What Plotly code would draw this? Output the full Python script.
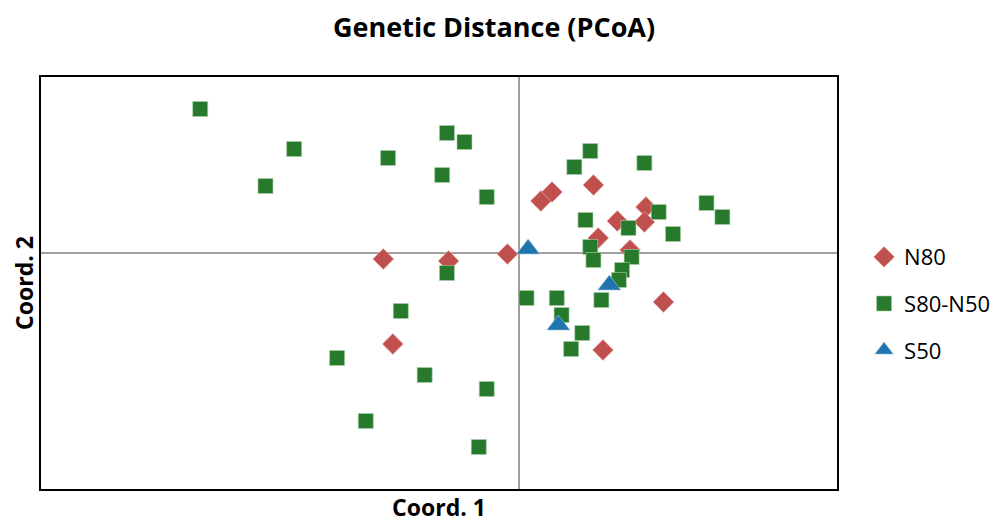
import plotly.graph_objects as go

# N80 (red diamonds)
n80_x = [-0.85, -0.44, -0.07, 0.14, 0.21, 0.47, 0.80, 0.79, 0.62, 0.50, 0.70, 0.91, 0.53, -0.79]
n80_y = [-0.06, -0.08, -0.01, 0.52, 0.61, 0.68, 0.46, 0.31, 0.32, 0.15, 0.03, -0.49, -0.97, -0.91]

# S80-N50 (green squares)
s80_x = [-2.00, -1.41, -1.59, -0.45, -0.34, -0.82, -0.48, -0.20, -0.45, 0.35,
         0.45, 0.79, 1.18, 1.28, 0.42, 0.88, 0.69, 0.97, 0.45, 0.47,
         0.71, 0.65, 0.63, 0.05, 0.24, 0.52, 0.27, 0.40, 0.33, -0.74,
         -1.14, -0.59, -0.20, -0.96, -0.25]
s80_y = [1.44, 1.04, 0.67, 1.20, 1.11, 0.95, 0.78, 0.56, -0.20, 0.86,
         1.02, 0.90, 0.50, 0.36, 0.33, 0.41, 0.25, 0.19, 0.06, -0.07,
         -0.04, -0.17, -0.27, -0.45, -0.45, -0.47, -0.62, -0.80, -0.96, -0.58,
         -1.05, -1.22, -1.36, -1.68, -1.94]

# S50 (blue triangles)
s50_x = [0.06, 0.57, 0.25]
s50_y = [0.04, -0.32, -0.72]

series_names = ["N80", "S80-N50", "S50"]
colors = ["#C0504D", "#277A2B", "#1F75AE"]

fig = go.Figure()
fig.add_trace(go.Scatter(x=n80_x, y=n80_y, mode="markers", name=series_names[0],
                         legendgroup="a",
                         marker=dict(symbol="diamond", size=16, color=colors[0],
                                     line=dict(width=0.6, color="#E8B0AE"))))
fig.add_trace(go.Scatter(x=s80_x, y=s80_y, mode="markers", name=series_names[1],
                         legendgroup="b",
                         marker=dict(symbol="square", size=15, color=colors[1],
                                     line=dict(width=0.6, color="#A8D0A8"))))
fig.add_trace(go.Scatter(x=s50_x, y=s50_y, mode="markers", name=series_names[2],
                         legendgroup="c",
                         marker=dict(symbol="triangle-up", size=20, color=colors[2],
                                     line=dict(width=0.6, color="#A0C8E0"))))

axis_common = dict(showgrid=False, showticklabels=False, ticks="",
                   zeroline=True, zerolinecolor="#A0A0A0", zerolinewidth=2,
                   showline=True, linecolor="black", linewidth=2, mirror=True)

fig.update_layout(
    width=990, height=515,
    margin=dict(l=33, r=161, t=69, b=34, autoexpand=False),
    paper_bgcolor="white", plot_bgcolor="white",
    font=dict(family="'Open Sans', sans-serif", color="black"),
    title=dict(text="<b>Genetic Distance (PCoA)</b>", x=0.491, xanchor="center",
               y=0.963, yanchor="middle", font=dict(size=27, color="black")),
    xaxis=dict(range=[-3.0, 2.0], title=dict(text="<b>Coord. 1</b>", font=dict(size=23), standoff=11),
               **axis_common),
    yaxis=dict(range=[-2.36, 1.76], title=dict(text="<b>Coord. 2</b>", font=dict(size=23), standoff=2),
               **axis_common),
    legend=dict(x=1.034, xanchor="left", y=0.450, yanchor="middle",
                font=dict(size=22), tracegroupgap=15, itemwidth=30,
                bgcolor="rgba(0,0,0,0)"),
)

fig.write_html("out.html")
